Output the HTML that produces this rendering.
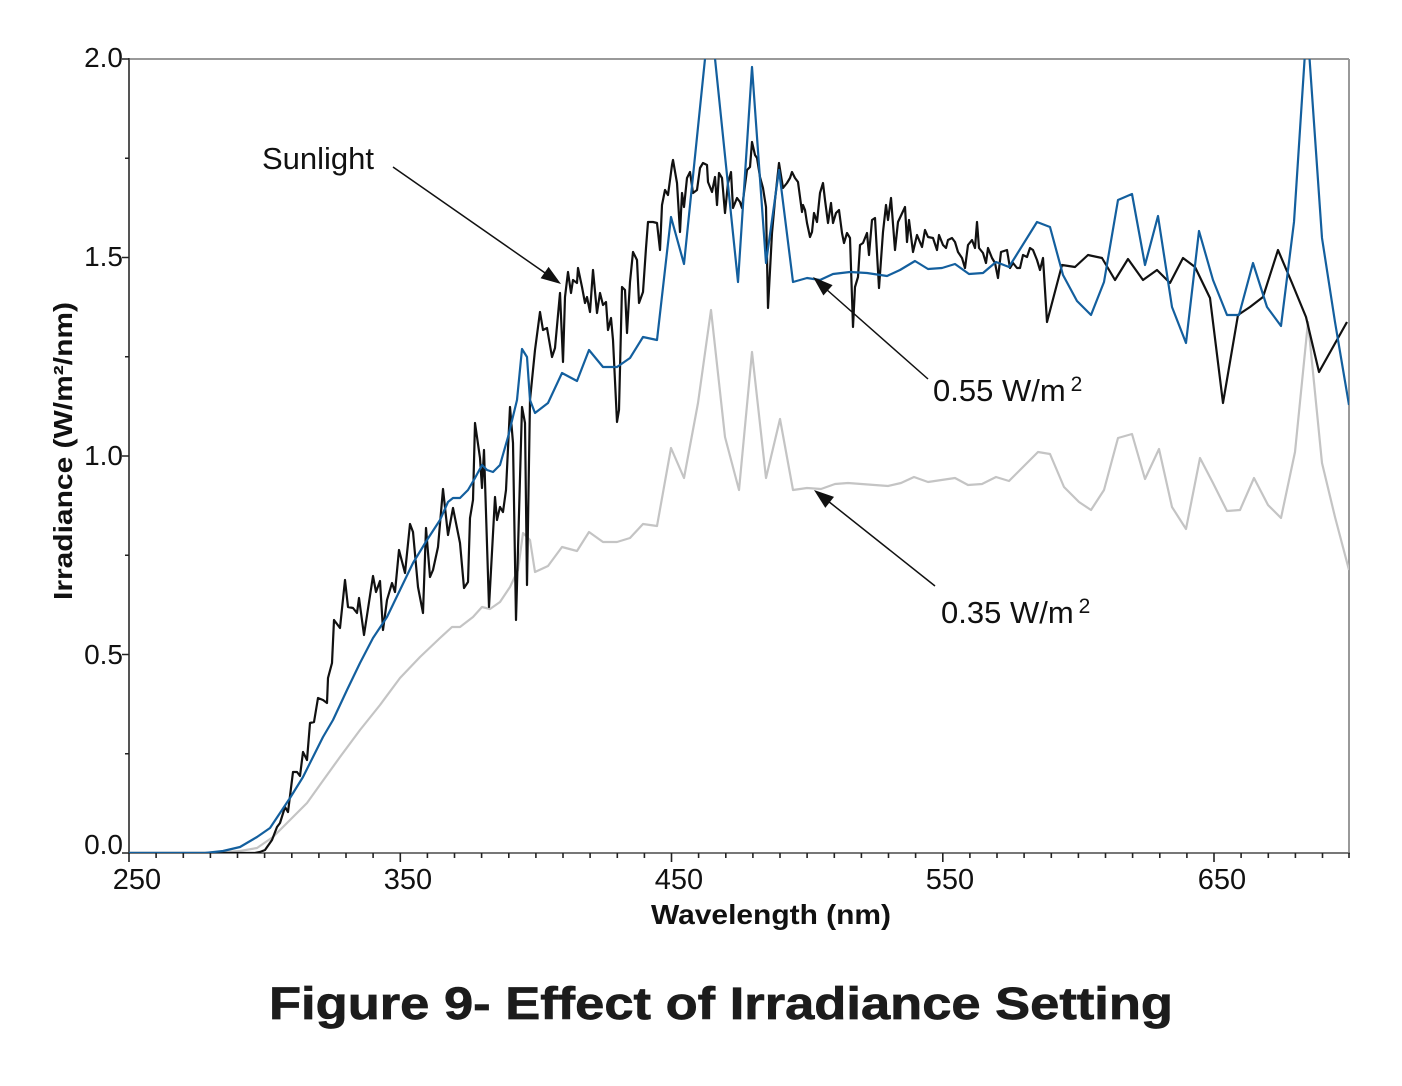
<!DOCTYPE html>
<html>
<head>
<meta charset="utf-8">
<style>
html,body{margin:0;padding:0;background:#fff;}
svg{display:block;}
text{font-family:"Liberation Sans",Arial,sans-serif;}
</style>
</head>
<body>
<svg width="1402" height="1086" viewBox="0 0 1402 1086" xmlns="http://www.w3.org/2000/svg">
<defs>
<clipPath id="pc"><rect x="129" y="59" width="1220" height="794"/></clipPath>
</defs>
<rect width="1402" height="1086" fill="#fff"/>

<!-- frame -->
<line x1="129" y1="59" x2="1349" y2="59" stroke="#999" stroke-width="2"/>
<line x1="1349" y1="59" x2="1349" y2="853" stroke="#999" stroke-width="2"/>
<line x1="129" y1="58" x2="129" y2="854" stroke="#555" stroke-width="2"/>
<line x1="128" y1="853" x2="1350" y2="853" stroke="#777" stroke-width="2"/>

<!-- y ticks -->
<path d="M122 59H129M122 257.5H129M122 456H129M122 654.5H129M122 853H129M125 158.25H129M125 356.75H129M125 555.25H129M125 753.75H129" stroke="#222" stroke-width="1.6" fill="none"/>
<!-- x ticks -->
<path d="M129 853v9M156.1 853v5M183.3 853v5M210.4 853v5M237.5 853v5M264.6 853v5M291.8 853v5M318.9 853v5M346 853v5M373.1 853v5M400.3 853v9M427.4 853v5M454.5 853v5M481.6 853v5M508.8 853v5M535.9 853v5M563 853v5M590.1 853v5M617.3 853v5M644.4 853v5M671.5 853v9M698.6 853v5M725.8 853v5M752.9 853v5M780 853v5M807.1 853v5M834.3 853v5M861.4 853v5M888.5 853v5M915.6 853v5M942.8 853v9M969.9 853v5M997 853v5M1024.1 853v5M1051.3 853v5M1078.4 853v5M1105.5 853v5M1132.6 853v5M1159.8 853v5M1186.9 853v5M1214 853v9M1241.1 853v5M1268.3 853v5M1295.4 853v5M1322.5 853v5M1349 853v5" stroke="#222" stroke-width="1.6" fill="none"/>

<!-- y tick labels -->
<g font-size="28" fill="#111" text-anchor="end">
<text x="123" y="67">2.0</text>
<text x="123" y="266">1.5</text>
<text x="123" y="465">1.0</text>
<text x="123" y="664">0.5</text>
<text x="123" y="854">0.0</text>
</g>
<!-- x tick labels -->
<g font-size="29" fill="#111" text-anchor="middle">
<text x="137" y="889">250</text>
<text x="408" y="889">350</text>
<text x="679" y="889">450</text>
<text x="950" y="889">550</text>
<text x="1222" y="889">650</text>
</g>

<!-- axis titles -->
<text x="771" y="924" font-size="28" font-weight="bold" fill="#111" text-anchor="middle" textLength="240" lengthAdjust="spacingAndGlyphs">Wavelength (nm)</text>
<text transform="translate(72,451) rotate(-90)" font-size="26" font-weight="bold" fill="#111" text-anchor="middle" textLength="298" lengthAdjust="spacingAndGlyphs">Irradiance (W/m²/nm)</text>

<g clip-path="url(#pc)" fill="none" stroke-linejoin="round">
<!-- 0.35 grey -->
<polyline stroke="#c4c4c4" stroke-width="2.2" points="129,853 215,853 240,851 257,848 273,837 290,820 307,803 322,782 340,757 360,730 380,705 400,678 420,657 440,638 452,627 460,627 473,617 482,607 490,609 500,602 510,587 518,570 523,533 530,540 535,572 548,566 562,547 577,551 589,532 603,542 617,542 630,538 643,524 657,526 671,448 684,478 698,403 711,310 725,437 739,490 752,352 766,478 780,419 793,490 807,488 821,489 835,484 848,483 888,486 901,483 914,477 928,482 955,478 968,485 982,484 996,477 1009,481 1023,467 1038,452 1050,454 1064,487 1079,502 1091,510 1104,490 1118,438 1132,434 1145,479 1159,449 1172,507 1186,529 1200,458 1213,483 1227,511 1240,510 1254,478 1268,505 1281,518 1295,452 1308,322 1322,463 1335,517 1349,570"/>
<!-- sunlight black -->
<polyline stroke="#111" stroke-width="2.2" points="129,853 255,853 260,852 265,850 272,840 277,827 280,823 285,807 288,812 293,772 297,772 300,776 303,752 307,760 310,723 314,722 318,698 323,700 327,703 328,678 332,663 334,620 340,628 345,580 348,607 353,608 357,613 359,598 364,635 373,576 376,592 380,581 383,630 387,600 392,583 395,592 399,550 405,573 410,524 413,532 418,587 423,613 426,528 430,577 433,570 438,547 443,489 448,535 453,508 460,543 464,588 468,582 470,518 473,500 475,423 480,458 482,488 484,450 489,607 495,497 497,520 500,507 503,512 506,490 510,407 513,443 516,620 522,407 525,423 527,585 530,400 535,350 540,312 543,330 547,328 552,357 555,348 560,293 563,362 565,297 568,272 571,293 573,280 577,283 578,268 582,287 585,303 587,297 590,312 593,270 597,313 600,293 603,305 606,302 608,330 611,318 613,340 617,422 619,410 622,287 625,290 627,333 630,282 633,252 637,260 639,303 643,292 646,248 648,222 653,222 657,223 660,250 662,205 665,190 668,195 672,165 673,160 677,183 680,232 682,193 684,207 687,178 690,172 693,193 697,190 700,168 703,163 707,165 708,182 712,192 715,177 717,205 719,173 722,178 725,213 728,183 731,172 733,208 737,198 740,202 742,208 747,170 750,167 752,142 755,155 757,158 760,177 763,188 766,207 768,308 772,233 775,200 779,163 783,188 787,183 790,178 792,172 795,178 798,182 802,212 803,205 805,210 807,223 810,237 812,232 814,213 817,222 820,193 823,183 825,200 828,223 831,203 833,223 836,213 839,210 842,233 844,243 847,233 850,238 853,327 855,287 858,277 860,245 863,243 867,233 869,255 872,220 875,218 879,288 883,232 886,205 888,220 891,198 895,250 898,222 905,207 907,242 909,220 913,252 917,235 922,247 925,230 928,237 933,238 937,250 939,235 943,245 946,248 948,240 952,238 955,242 958,252 962,258 965,268 968,245 972,240 975,248 977,222 979,248 983,253 986,263 988,248 992,258 995,263 998,278 1001,252 1007,250 1010,268 1013,263 1017,268 1020,268 1023,255 1027,257 1030,248 1033,250 1037,260 1040,270 1043,258 1047,322 1062,265 1075,267 1088,255 1102,258 1115,280 1128,259 1143,280 1157,270 1170,283 1183,258 1195,267 1210,298 1223,403 1238,315 1250,307 1263,297 1278,250 1292,283 1306,317 1319,372 1333,347 1347,322"/>
<!-- 0.55 blue -->
<polyline stroke="#135f9e" stroke-width="2.2" points="129,853 205,853 223,851 240,847 257,837 270,828 280,813 290,798 303,777 313,757 323,737 333,720 347,690 360,663 373,638 387,617 400,590 413,563 427,540 440,520 448,502 453,498 460,498 468,490 475,478 482,465 487,470 493,472 500,465 508,437 517,400 522,349 527,357 530,400 535,413 548,403 562,373 577,381 589,350 603,367 617,367 630,358 643,337 657,340 671,217 684,264 710,10 738,282 752,67 766,263 779,170 793,282 807,278 820,280 833,274 850,272 867,273 887,276 900,270 915,261 928,269 942,268 955,264 969,274 983,273 996,262 1009,267 1037,222 1050,227 1063,275 1077,301 1091,315 1104,282 1118,200 1132,194 1145,265 1158,216 1172,307 1186,343 1199,231 1213,280 1227,315 1239,315 1253,263 1267,307 1281,326 1294,222 1307,22 1322,238 1335,322 1349,405"/>
</g>

<!-- annotations -->
<g fill="#111" stroke="none">
<text x="262" y="169" font-size="31">Sunlight</text>
<text x="933" y="401" font-size="31">0.55 W/m<tspan font-size="21" dx="5" dy="-10">2</tspan></text>
<text x="941" y="623" font-size="31">0.35 W/m<tspan font-size="21" dx="5" dy="-10">2</tspan></text>
</g>
<g stroke="#111" stroke-width="1.5">
<line x1="393" y1="167" x2="548" y2="275"/>
<line x1="928" y1="379" x2="826" y2="289"/>
<line x1="935" y1="586" x2="828" y2="501"/>
</g>
<g fill="#111">
<polygon points="561,284 540.6,278.3 548.6,266.9"/>
<polygon points="813,277 832.6,285.1 823.4,295.5"/>
<polygon points="814,490 834,496.9 825.3,507.9"/>
</g>

<!-- title -->
<text x="269" y="1019" font-size="45" font-weight="bold" fill="#1c1c1c" stroke="#1c1c1c" stroke-width="0.7" textLength="904" lengthAdjust="spacingAndGlyphs">Figure 9- Effect of Irradiance Setting</text>
</svg>
</body>
</html>
